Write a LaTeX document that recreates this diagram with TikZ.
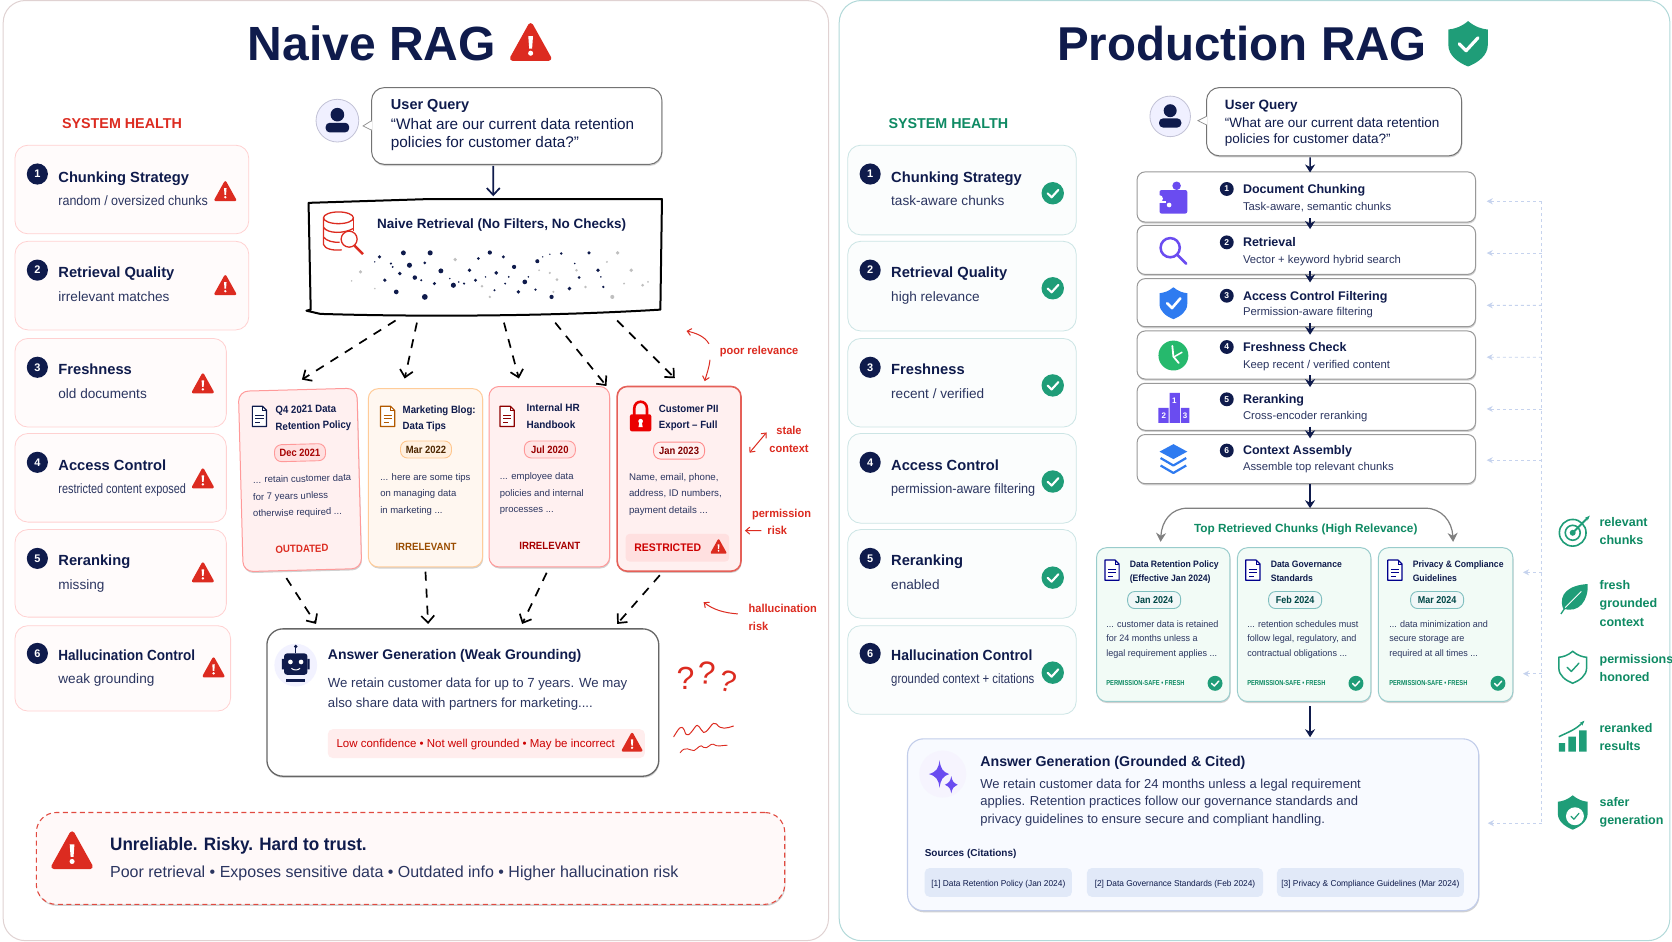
\documentclass[tikz,border=0pt]{standalone}
\usepackage{graphicx}
\usepackage{fontspec}
\setmainfont{Liberation Sans}
\usetikzlibrary{arrows.meta,shadows,calc}
\definecolor{ink}{HTML}{0F1B4C}
\definecolor{sub}{HTML}{2B3560}
\definecolor{rd}{HTML}{DC2B20}
\definecolor{gr}{HTML}{0E8A63}
\definecolor{grc}{HTML}{1F9D78}
\definecolor{pur}{HTML}{6A4CF0}
\definecolor{blu}{HTML}{2F7BF0}
\definecolor{fb}{HTML}{C6D3EE}
\definecolor{chipc}{HTML}{E1E9F8}
\definecolor{anfill}{HTML}{F8FAFF}
\definecolor{anline}{HTML}{C2CDEA}
\newcounter{tn}
\newcommand{\bd}{\bfseries}
\newcommand{\sq}[2]{\scalebox{#1}[1]{#2}}
\newcommand{\tleft}[5][]{\stepcounter{tn}\node[anchor=base west,inner sep=0pt,text=ink,#1] (t\arabic{tn}) at ({#2},{(#3)+0.33*(#4)}) {\fontsize{#4}{#4}\selectfont #5};}
\newcommand{\tmid}[5][]{\stepcounter{tn}\node[anchor=base,inner sep=0pt,text=ink,#1] (t\arabic{tn}) at ({#2},{(#3)+0.33*(#4)}) {\fontsize{#4}{#4}\selectfont #5};}
\newcommand{\bx}[6]{\node[#6,inner sep=0pt,minimum width={((#4)-(#2))*1.0677pt},minimum height={((#5)-(#3))*1.0677pt}] (#1) at ({((#2)+(#4))/2},{((#3)+(#5))/2}) {};}
\newcommand{\warn}[3]{\begin{scope}[shift={(#1,#2)},scale=#3]
\fill[rd,draw=rd,line width=#3*0.3pt,line join=round] (0,-1)--(1,.8)--(-1,.8)--cycle;
\fill[white] (-.13,-.42)--(.13,-.42)--(.08,.27)--(-.08,.27)--cycle;
\fill[white] (0,.52) circle (.14);
\end{scope}}
\newcommand{\chk}[3]{\fill[grc] (#1,#2) circle (#3);
\draw[white,line width=#3*0.2pt,line cap=round,line join=round] ({#1-0.45*#3},{#2+0.02*#3})--({#1-0.1*#3},{#2+0.36*#3})--({#1+0.5*#3},{#2-0.3*#3});}
\newcommand{\num}[4][11]{\fill[ink] (#2,#3) circle ({#1*0.9});\tmid[text=white]{#2}{#3}{#1}{\bd #4}}
\newcommand{\docicon}[4]{\begin{scope}[shift={(#1,#2)},scale=#4]
\draw[#3,line width=1.2pt,line join=round,fill=white] (-7,-10)--(3,-10)--(7,-6)--(7,10)--(-7,10)--cycle;
\draw[#3,line width=.9pt] (3,-10)--(3,-6)--(7,-6);
\draw[#3,line width=1pt] (-4,-1)--(4,-1) (-4,2.5)--(4,2.5) (-4,6)--(1,6);
\end{scope}}
\newcommand{\avatar}[3]{\fill[blue!6,draw=blue!20!gray!40,line width=.8pt] (#1,#2) circle (#3);
\fill[ink] (#1,{#2-0.28*#3}) circle ({0.32*#3});
\fill[ink,rounded corners=4pt] ({#1-0.55*#3},{#2+0.55*#3}) -- ({#1-0.55*#3},{#2+0.1*#3}) -- ({#1+0.55*#3},{#2+0.1*#3}) -- ({#1+0.55*#3},{#2+0.55*#3}) -- cycle;}
\newcommand{\shieldpath}{(0,-1.15) .. controls (.35,-.85) and (.7,-.75) .. (1,-.72) -- (1,.05) .. controls (1,.6) and (.5,.95) .. (0,1.15) .. controls (-.5,.95) and (-1,.6) .. (-1,.05) -- (-1,-.72) .. controls (-.7,-.75) and (-.35,-.85) .. (0,-1.15) -- cycle}
\tikzset{
 panelL/.style={draw=red!18!gray!30,line width=1pt,rounded corners=22pt,fill=white},
 panelR/.style={draw=teal!30,line width=1pt,rounded corners=22pt,fill=white},
 cardL/.style={draw=red!18,line width=.8pt,fill=red!1.5,rounded corners=13pt},
 cardR/.style={draw=teal!20,line width=.8pt,fill=teal!1.5,rounded corners=13pt},
 softshadow/.style={drop shadow={shadow xshift=.6pt,shadow yshift=-1.6pt,opacity=.18,fill=black}},
 qbox/.style={draw=black!55,line width=1pt,fill=white,rounded corners=13pt,softshadow},
 dasharr/.style={black,line width=1.7pt,dash pattern=on 9pt off 8pt,-{Straight Barb[length=7pt,width=13pt,line width=1.7pt]}},
 solidarr/.style={ink,line width=1.7pt,-{Straight Barb[length=7pt,width=13pt,line width=1.7pt]}},
 smallarr/.style={ink,line width=1.4pt,-{Stealth[length=8pt,width=10pt]}},
 redarr/.style={rd,line width=1pt,-{Straight Barb[length=4pt,width=7pt,line width=1pt]}},
 fbline/.style={fb,line width=.8pt,dash pattern=on 3pt off 3pt},
 fbarr/.style={fbline,-{Stealth[length=6pt,width=6pt,fb]}},
 stepbox/.style={draw=black!40,line width=1pt,fill=white,rounded corners=8pt,softshadow},
 doccard/.style={fill=#1!6,draw=#1!40,line width=1pt,rounded corners=10pt,softshadow},
 chunkcard/.style={fill=green!40!teal!5,draw=teal!40,line width=1pt,rounded corners=10pt,softshadow},
 pill/.style={rounded corners=7pt,line width=.9pt,inner sep=0pt},
}
\begin{document}
\begin{tikzpicture}[x=1.0677pt,y=-1.0677pt]
\useasboundingbox (0,0) rectangle (1566,881.35);
\fill[white] (0,0) rectangle (1566,881.35);
\bx{pl}{3}{0.5}{776}{881}{panelL}
\bx{pr}{786}{0.5}{1564}{881}{panelR}
% ---------- LEFT ----------
\tleft{232}{41}{48}{\bd Naive RAG}
\warn{497}{41}{17}
\tleft[text=rd]{58}{116}{14.3}{\bd SYSTEM HEALTH}
\bx{lc1}{14}{136}{233}{219}{cardL}
\bx{lc2}{14}{226}{233}{309}{cardL}
\bx{lc3}{14}{317}{212}{400}{cardL}
\bx{lc4}{14}{406}{212}{489}{cardL}
\bx{lc5}{14}{496}{212}{578}{cardL}
\bx{lc6}{14}{586}{216}{666}{cardL}
\foreach \n/\yc/\yt/\ys/\ttl/\sb/\wx/\wy in {1/163/166/188/{Chunking Strategy}/{\sq{.92}{random / oversized chunks}}/211/180,2/253/255/278/{Retrieval Quality}/{irrelevant matches}/211/268,3/344/346/369/{Freshness}/{old documents}/190/360,4/433/436/458/{Access Control}/{\sq{.8}{restricted content exposed}}/190/449,5/523/525/548/{Reranking}/{missing}/190/537,6/612/614/636/{\sq{.92}{Hallucination Control}}/{weak grounding}/200/626}{
 \num{35}{\yc}{\n}
 \tleft{54.5}{\yt}{14.7}{\bd \ttl}
 \tleft[text=sub]{54.5}{\ys}{13.6}{\sb}
 \warn{\wx}{\wy}{9}
}
% query
\avatar{316}{113}{20}
\bx{ql}{348}{82}{620}{154}{qbox}
\fill[white,draw=black!45,line width=.7pt] (348,113)--(340,118)--(348,122);
\draw[white,line width=1.4pt] (348.2,114)--(348.2,121);
\tleft{366}{98}{14.5}{\bd User Query}
\tleft{366}{116}{15.3}{“What are our current data retention}
\tleft{366}{133}{15.3}{policies for customer data?”}
% retrieval
\bx{retr}{289}{185}{620}{295}{}
\draw[black,line width=2pt,line join=round,line cap=round] (289,190) -- (400,186.5) -- (620,186.5) -- (618.5,290) .. controls (520,296) and (400,297) .. (300,294) -- (287,291) -- (291,290) -- cycle;
\draw[solidarr] ([shift={(-22,1)}]ql.south) -- ([shift={(7.5,-1)}]retr.north);
\begin{scope}[rd,line width=1.3pt]
\draw (317,204) ellipse (14 and 5.5);
\draw (303,204) -- (303,229) .. controls (304,233) and (312,235) .. (320,234);
\draw (331,204) -- (331,216);
\draw (303,213) .. controls (307,219) and (322,219) .. (331,214);
\draw (303,222) .. controls (306,226) and (312,227) .. (318,227);
\draw[fill=white] (327,224) circle (7.5);
\draw[line width=2.4pt] (332,230) -- (340,238);
\end{scope}
\tleft{353}{210}{13.5}{\bd Naive Retrieval (No Filters, No Checks)}
\foreach \a/\b/\r in {363/560/1.7,430/548/2.3,505/548/2.4,395/580/1.1,447/585/2.4,490/578/1.4,420/610/1.8,462/622/2.1,535/602/2.3,378/630/1.7,517/640/1.6,570/645/2.4,410/665/2.2,490/680/2.7,615/600/1.8,640/565/1.4,672/547/2,710/560/1.6,690/608/1.8,740/590/2,632/630/1.6,770/635/2.2,752/665/1.8,685/660/1.1,805/573/1.9,800/658/1.2,845/680/2,895/655/1.8,872/550/1.3,950/548/1.6,975/600/1.7,922/622/1.4,480/630/1,400/590/1,600/640/1.1,660/620/.8,715/640/1,725/620/.9,780/620/.9,983/620/.8,990/650/1.2,910/580/.8,820/560/.7,840/552/.7,350/575/.7,560/625/.8,585/635/.8}{
 \fill[ink] ({234+\a/2.99},{65.6+\b/3.2}) circle (\r);
}
\foreach \a/\b/\r in {1030/548/1.7,1068/600/1.7,1015/680/1.9,1100/645/1.4,310/605/1.6,575/568/1.7,860/628/1.4,840/608/1.1,915/600/1.3,850/665/1.1,650/648/1.3,672/680/1.2,940/650/1.3,1048/640/1,350/655/.8,810/600/.9,285/632/.8,1000/575/1,1115/635/.9}{
 \fill[black!25] ({234+\a/2.99},{65.6+\b/3.2}) circle (\r);
}
% doc cards
\bx{d1}{225.5}{365}{336.5}{534}{doccard=red,rotate=1.5}
\bx{d2}{345}{364}{452}{531}{doccard=orange}
\bx{d3}{458}{362}{571}{531}{doccard=red}
\bx{d4}{578}{362}{694}{535}{doccard=red,draw=rd!75,line width=1.6pt}
\draw[dasharr] ([shift={(-84,5)}]retr.south) -- ([shift={(4,-9)}]d1.north);
\draw[dasharr] ([shift={(-64,7)}]retr.south) -- ([shift={(-19.5,-9)}]d2.north);
\draw[dasharr] ([shift={(17.5,7)}]retr.south) -- ([shift={(-28.5,-7)}]d3.north);
\draw[dasharr] ([shift={(65.5,7)}]retr.south) -- ([shift={(53.5,0)}]d3.north);
\draw[dasharr] ([shift={(123.5,5)}]retr.south) -- ([shift={(-4,-7)}]d4.north);
% D1
\docicon{243}{390}{ink}{.95}
\tleft[rotate=1.5]{258}{384}{10.5}{\bd\sq{.92}{Q4 2021 Data}}
\tleft[rotate=1.5]{258}{399.5}{10.5}{\bd\sq{.92}{Retention Policy}}
\node[pill,rotate=1.5,fill=red!12,draw=red!40,minimum width=51pt,minimum height=17pt] (p1) at (281,424) {};
\tmid[rotate=1.5,text=red!65!black]{281}{424}{10.5}{\bd\sq{.9}{Dec 2021}}
\tleft[rotate=1.5,text=sub]{237}{449.5}{9.5}{... retain customer data}
\tleft[rotate=1.5,text=sub]{237}{465.5}{9.5}{for 7 years unless}
\tleft[rotate=1.5,text=sub]{237}{481}{9.5}{otherwise required ...}
\tmid[rotate=1.5,text=rd]{283}{514}{10.5}{\bd\sq{.92}{OUTDATED}}
% D2
\docicon{363}{390}{orange!70!black}{.95}
\tleft{377}{384}{10.5}{\bd\sq{.92}{Marketing Blog:}}
\tleft{377}{399}{10.5}{\bd\sq{.92}{Data Tips}}
\node[pill,fill=orange!12,draw=orange!45,minimum width=51pt,minimum height=17pt] (p2) at (399,421) {};
\tmid[text=orange!30!black]{399}{421}{10.5}{\bd\sq{.9}{Mar 2022}}
\tleft[text=sub]{356}{447}{9.5}{... here are some tips}
\tleft[text=sub]{356}{462}{9.5}{on managing data}
\tleft[text=sub]{356}{478}{9.5}{in marketing ...}
\tmid[text=orange!60!black]{399}{512}{10.5}{\bd\sq{.92}{IRRELEVANT}}
% D3
\docicon{475}{390}{red!55!black}{.95}
\tleft{493}{382}{10.5}{\sq{.95}{\bd Internal HR}}
\tleft{493}{397.5}{10.5}{\sq{.95}{\bd Handbook}}
\node[pill,fill=red!10,draw=red!40,minimum width=51pt,minimum height=17pt] (p3) at (515,421) {};
\tmid[text=red!60!black]{515}{421}{10.5}{\bd\sq{.9}{Jul 2020}}
\tleft[text=sub]{468}{446}{9.5}{... employee data}
\tleft[text=sub]{468}{462}{9.5}{policies and internal}
\tleft[text=sub]{468}{477}{9.5}{processes ...}
\tmid[text=red!65!black]{515}{511}{10.5}{\bd\sq{.92}{IRRELEVANT}}
% D4
\fill[red!92!black,rounded corners=2pt] (590,388) rectangle (610,404);
\draw[red!92!black,line width=2.6pt] (594,389) -- (594,383) .. controls (594,374) and (606,374) .. (606,383) -- (606,389);
\fill[white] (600,394.5) circle (2.2); \fill[white] (599,395)--(601,395)--(602,400)--(598,400)--cycle;
\tleft{617}{382.5}{10.5}{\bd\sq{.92}{Customer PII}}
\tleft{617}{398}{10.5}{\bd\sq{.92}{Export – Full}}
\node[pill,fill=red!6,draw=red!45,minimum width=51pt,minimum height=17pt] (p4) at (636,422) {};
\tmid[text=red!50!black]{636}{422}{10.5}{\bd\sq{.9}{Jan 2023}}
\tleft[text=sub]{589}{447}{9.7}{Name, email, phone,}
\tleft[text=sub]{589}{462}{9.7}{address, ID numbers,}
\tleft[text=sub]{589}{478}{9.7}{payment details ...}
\bx{rs}{586}{500}{683}{526}{fill=red!12,rounded corners=4pt}
\tleft[text=red!80!black]{594}{512.5}{11}{\bd\sq{.95}{RESTRICTED}}
\warn{673}{512.5}{6.5}
% annotations
\tleft[text=rd]{674}{328.5}{11.5}{\bd\sq{.96}{poor relevance}}
\coordinate (pa1) at (664,322);
\coordinate (pa2) at (643,310);
\coordinate (pa3) at (665,337);
\coordinate (pa4) at (660,357);
\draw[redarr] (pa1) .. controls (660,315) and (652,312) .. (pa2);
\draw[redarr] (pa3) .. controls (664,345) and (662,350) .. (pa4);
\tmid[text=rd]{739}{403}{11.5}{\bd\sq{.96}{stale}}
\tmid[text=rd]{739}{420}{11.5}{\bd\sq{.96}{context}}
\coordinate (sa1) at (702,424);
\coordinate (sa2) at (718,405);
\draw[redarr,{Straight Barb[length=4pt,width=7pt,line width=1pt]}-{Straight Barb[length=4pt,width=7pt,line width=1pt]}] (sa1) -- (sa2);
\tmid[text=rd]{732}{481}{11.5}{\bd\sq{.96}{permission}}
\tmid[text=rd]{728}{497}{11.5}{\bd\sq{.96}{risk}}
\coordinate (pr1) at (713,497);
\draw[redarr] (pr1) -- ([shift={(3,48.5)}]d4.east);
\tleft[text=rd]{701}{570}{11.5}{\bd\sq{.96}{hallucination}}
\tleft[text=rd]{701}{587}{11.5}{\bd\sq{.96}{risk}}
\coordinate (ha1) at (691,575);
\coordinate (ha2) at (659,564);
\draw[redarr] (ha1) .. controls (678,574) and (668,571) .. (ha2);
% answer
\bx{an}{250}{589}{617}{727}{draw=black!60,line width=1.3pt,fill=white,rounded corners=16pt,softshadow}
\draw[dasharr] ([shift={(-15,7)}]d1.south) -- ([shift={(-137.5,-4)}]an.north);
\draw[dasharr] ([shift={(0,4)}]d2.south) -- ([shift={(-32.5,-4)}]an.north);
\draw[dasharr] ([shift={(-2.5,5)}]d3.south) -- ([shift={(55.5,-4)}]an.north);
\draw[dasharr] ([shift={(-18,3)}]d4.south) -- ([shift={(144.5,-4)}]an.north);
\fill[blue!5] (277,623) circle (20);
\fill[ink,rounded corners=3pt] (266,612) rectangle (288,632);
\fill[ink] (264,617) rectangle (266,627) (288,617) rectangle (290,627);
\draw[ink,line width=1pt] (277,612) -- (277,606); \fill[ink] (277,605.5) circle (1.8);
\fill[white] (272,620) circle (2.2) (282,620) circle (2.2);
\draw[white,line width=1pt] (273,626) .. controls (275,628) and (279,628) .. (281,626);
\fill[ink] (268,636) rectangle (286,638.5);
\tleft{307}{613}{14}{\bd Answer Generation (Weak Grounding)}
\tleft[text=sub]{307}{640}{13.2}{We retain customer data for up to 7 years. We may}
\tleft[text=sub]{307}{658}{13.2}{also share data with partners for marketing....}
\bx{conf}{307}{683}{604}{710}{fill=red!7,rounded corners=5pt}
\tleft[text=red!80!black]{315}{696}{11.5}{Low confidence • Not well grounded • May be incorrect}
\warn{592}{696}{8.5}
\tmid[text=rd]{642}{635}{32}{?}
\tmid[text=rd,rotate=-4]{661}{630}{32}{?}
\tmid[text=rd,rotate=-14]{680}{638}{30}{?}
\draw[rd,line width=1pt,line cap=round,line join=round] (631,690) .. controls (636,682) and (638,678) .. (641,684) .. controls (643,692) and (646,688) .. (651,681) .. controls (654,676) and (656,684) .. (659,686) .. controls (664,686) and (667,674) .. (671,678) .. controls (675,684) and (681,682) .. (687,680);
\draw[rd,line width=.9pt,line cap=round,line join=round] (637,705) .. controls (642,698) and (646,703) .. (650,703) .. controls (654,701) and (656,696) .. (659,700) .. controls (663,702) and (665,696) .. (668,697) .. controls (672,700) and (676,698) .. (681,698);
% banner
\bx{ban}{34}{761}{735}{847}{draw=rd!85,line width=1.1pt,dash pattern=on 5pt off 3.5pt,fill=red!2.5,rounded corners=20pt,softshadow}
\warn{67.5}{798}{17}
\tleft{103}{791}{18}{\bd\sq{.95}{Unreliable. Risky. Hard to trust.}}
\tleft[text=sub]{103}{817}{16}{Poor retrieval • Exposes sensitive data • Outdated info • Higher hallucination risk}
% ---------- RIGHT ----------
\tleft{990}{41}{47.5}{\bd Production RAG}
\begin{scope}[shift={(1375,41)},scale=18.5]
\fill[grc] \shieldpath;
\draw[white,line width=3.2pt,line cap=round,line join=round] (-.45,0)--(-.1,.35)--(.5,-.3);
\end{scope}
\tleft[text=gr]{832}{116}{14.3}{\bd SYSTEM HEALTH}
\bx{rc1}{794}{136}{1008}{220}{cardR}
\bx{rc2}{794}{226}{1008}{310}{cardR}
\bx{rc3}{794}{317}{1008}{400}{cardR}
\bx{rc4}{794}{406}{1008}{490}{cardR}
\bx{rc5}{794}{496}{1008}{579}{cardR}
\bx{rc6}{794}{586}{1008}{669}{cardR}
\foreach \n/\yc/\yt/\ys/\ttl/\sb/\cy in {1/163/166/188/{Chunking Strategy}/{task-aware chunks}/181,2/253/255/278/{Retrieval Quality}/{high relevance}/270,3/344/346/369/{Freshness}/{recent / verified}/361,4/433/436/458/{Access Control}/{\sq{.93}{permission-aware filtering}}/451,5/523/525/548/{Reranking}/{enabled}/541,6/612/614/636/{\sq{.95}{Hallucination Control}}/{\sq{.84}{grounded context + citations}}/630}{
 \num{815}{\yc}{\n}
 \tleft{834.5}{\yt}{14.7}{\bd \ttl}
 \tleft[text=sub]{834.5}{\ys}{13.6}{\sb}
 \chk{986}{\cy}{10.5}
}
\avatar{1096}{109}{19}
\bx{qr}{1130}{82}{1369}{146}{qbox}
\fill[white,draw=black!45,line width=.7pt] (1130,109)--(1122,113)--(1130,117);
\draw[white,line width=1.4pt] (1130.2,110)--(1130.2,116);
\tleft{1147}{98}{13.5}{\bd User Query}
\tleft{1147}{115}{13.5}{“What are our current data retention}
\tleft{1147}{130}{13.5}{policies for customer data?”}
% steps
\bx{s1}{1065}{161}{1382}{208}{stepbox}
\bx{s2}{1065}{211}{1382}{257}{stepbox}
\bx{s3}{1065}{261}{1382}{306}{stepbox}
\bx{s4}{1065}{310}{1382}{355}{stepbox}
\bx{s5}{1065}{359}{1382}{403}{stepbox}
\bx{s6}{1065}{407}{1382}{453}{stepbox}
\draw[smallarr] ([shift={(-22.5,1)}]qr.south) -- ([shift={(3.5,1)}]s1.north);
\foreach \p/\q in {s1/s2,s2/s3,s3/s4,s4/s5,s5/s6}{
 \draw[smallarr] ([shift={(3.5,-4)}]\p.south) -- ([shift={(3.5,4)}]\q.north);
}
\foreach \n/\yt/\ys/\ttl/\sb in {1/177/193/{Document Chunking}/{Task-aware, semantic chunks},2/227/243/{Retrieval}/{Vector + keyword hybrid search},3/277/292/{Access Control Filtering}/{Permission-aware filtering},4/325/341/{Freshness Check}/{Keep recent / verified content},5/374/389/{Reranking}/{Cross-encoder reranking},6/422/437/{Context Assembly}/{Assemble top relevant chunks}}{
 \fill[ink] (1149,\yt) circle (6.5);
 \tmid[text=white]{1149}{\yt}{8.5}{\bd\n}
 \tleft{1164}{\yt}{12.5}{\bd \ttl}
 \tleft[text=sub]{1164}{\ys}{11.3}{\sb}
}
% step icons
\fill[pur,rounded corners=2pt] (1086,178) rectangle (1112,200);
\fill[pur] (1102,174) circle (4);
\fill[white] (1086,186) circle (3.2) (1095,192) circle (2.2);
\fill[white] (1085,188) rectangle (1092,190);
\draw[pur,line width=2.5pt] (1096,232) circle (9);
\draw[pur,line width=2.8pt,line cap=round] (1103,239) -- (1111,247);
\begin{scope}[shift={(1099,284)},scale=13]
\fill[blu] \shieldpath;
\draw[white,line width=2.6pt,line cap=round,line join=round] (-.45,0)--(-.1,.35)--(.5,-.35);
\end{scope}
\fill[teal!65!green!85] (1099,333) circle (14);
\draw[white,line width=1.8pt,line cap=round,line join=round] (1098,324)--(1099,334)--(1104,340);
\draw[white,line width=1.5pt,line cap=round] (1100,334)--(1107,330);
\fill[pur] (1085,382) rectangle (1094.5,396) (1095.5,368) rectangle (1105,396) (1106,382) rectangle (1114,396);
\tmid[text=white]{1100}{375}{8}{\bd 1}
\tmid[text=white]{1090}{389}{8}{\bd 2}
\tmid[text=white]{1110}{389}{8}{\bd 3}
\fill[blu] (1099,416)--(1112,423)--(1099,430)--(1086,423)--cycle;
\draw[blu,line width=2.2pt,line join=round] (1087,429)--(1099,436)--(1111,429);
\draw[blu,line width=2.2pt,line join=round] (1087,436)--(1099,443)--(1111,436);
% chunk cards
\bx{c1}{1027}{513}{1152}{657}{chunkcard}
\bx{c2}{1159}{513}{1284}{657}{chunkcard}
\bx{c3}{1291}{513}{1417}{657}{chunkcard}
\coordinate (br) at (1227,476);
\draw[smallarr,line width=1.7pt] ([shift={(3.5,0)}]s6.south) -- (br);
\draw[black!50,line width=1.2pt,-{Stealth[length=9pt,width=10pt]}] (br) -- (1112,476) .. controls (1097,476) and (1088,488) .. ([shift={(-2.5,-5)}]c1.north);
\draw[black!50,line width=1.2pt,-{Stealth[length=9pt,width=10pt]}] (br) -- (1335,476) .. controls (1350,476) and (1360,488) .. ([shift={(7,-5)}]c3.north);
\tmid[text=gr]{1223}{495}{11.8}{\bd Top Retrieved Chunks (High Relevance)}
\foreach \ox/\ta/\tb/\dte/\la/\lb/\lc in {0/{Data Retention Policy}/{(Effective Jan 2024)}/{Jan 2024}/{... customer data is retained}/{for 24 months unless a}/{legal requirement applies ...},132/{Data Governance}/{Standards}/{Feb 2024}/{... retention schedules must}/{follow legal, regulatory, and}/{contractual obligations ...},265/{Privacy \& Compliance}/{Guidelines}/{Mar 2024}/{... data minimization and}/{secure storage are}/{required at all times ...}}{
 \begin{scope}[shift={(\ox,0)}]
 \docicon{1041.5}{534}{blue!55!black}{.95}
 \tleft{1058}{528}{9.3}{\bd\sq{.93}{\ta}}
 \tleft{1058}{542}{9.3}{\bd\sq{.93}{\tb}}
 \node[pill,fill=teal!6,draw=teal!50,minimum width=53pt,minimum height=17pt] (pc\ox) at (1081,562) {};
 \tmid[text=teal!55!black]{1081}{562}{10}{\bd\sq{.9}{\dte}}
 \tleft[text=sub]{1036}{585}{9.3}{\sq{.97}{\la}}
 \tleft[text=sub]{1036}{597.5}{9.3}{\sq{.97}{\lb}}
 \tleft[text=sub]{1036}{612}{9.3}{\sq{.97}{\lc}}
 \tleft[text=gr]{1036}{640}{7.2}{\bd\sq{.8}{PERMISSION-SAFE • FRESH}}
 \chk{1138}{640}{7}
 \end{scope}
}
% answer right
\bx{an2}{850}{692}{1385}{853}{draw=anline,line width=1.1pt,fill=anfill,rounded corners=16pt,softshadow}
\draw[smallarr,line width=1.7pt] ([shift={(5.5,4)}]c2.south) -- ([shift={(109.5,-1)}]an2.north);
\fill[pur!6] (883,725) circle (22);
\fill[pur] (880,712) .. controls (881,720) and (883,723) .. (889,725) .. controls (883,727) and (881,730) .. (880,738) .. controls (879,730) and (877,727) .. (870,725) .. controls (877,723) and (879,720) .. (880,712) -- cycle;
\fill[pur] (891,727) .. controls (892,732) and (893,733) .. (897,735) .. controls (893,737) and (892,738) .. (891,743) .. controls (890,738) and (889,737) .. (885,735) .. controls (889,733) and (890,732) .. (891,727) -- cycle;
\tleft{918}{713}{14.2}{\bd Answer Generation (Grounded \& Cited)}
\tleft[text=sub]{918}{734}{13}{We retain customer data for 24 months unless a legal requirement}
\tleft[text=sub]{918}{750}{13}{applies. Retention practices follow our governance standards and}
\tleft[text=sub]{918}{767}{13}{privacy guidelines to ensure secure and compliant handling.}
\tleft{866}{799}{10}{\bd Sources (Citations)}
\bx{ch1}{866}{813}{1004}{840}{fill=chipc,rounded corners=5pt}
\bx{ch2}{1018}{813}{1183}{840}{fill=chipc,rounded corners=5pt}
\bx{ch3}{1196}{813}{1371}{840}{fill=chipc,rounded corners=5pt}
\tmid{935}{827}{8.6}{\sq{.97}{[1] Data Retention Policy (Jan 2024)}}
\tmid{1100.5}{827}{8.6}{\sq{.97}{[2] Data Governance Standards (Feb 2024)}}
\tmid{1283.5}{827}{8.6}{\sq{.97}{[3] Privacy \& Compliance Guidelines (Mar 2024)}}
% feedback
\coordinate (fbtop) at (1444,188.5);
\coordinate (fbbot) at (1444,771);
\draw[fbline] (fbtop) -- (fbbot);
\foreach \nm/\yy/\dy in {s1/188.5/4,s2/237/3,s3/286/2.5,s4/334.6/2,s5/383/2,s6/431/1}{
 \coordinate (f\nm) at (1444,\yy);
 \draw[fbarr] (f\nm) -- ([shift={(10,\dy)}]\nm.east);
}
\coordinate (fc1) at (1444,536);
\coordinate (fc2) at (1444,631);
\draw[fbarr] (fc1) -- ([shift={(9,-49)}]c3.east);
\draw[fbarr] (fc2) -- ([shift={(9,46)}]c3.east);
\draw[fbarr] (fbbot) -- ([shift={(8,-1.5)}]an2.east);
% legend
\tleft[text=gr]{1498}{489}{12.5}{\bd relevant}
\tleft[text=gr]{1498}{506}{12.5}{\bd chunks}
\tleft[text=gr]{1498}{548}{12.5}{\bd fresh}
\tleft[text=gr]{1498}{565}{12.5}{\bd grounded}
\tleft[text=gr]{1498}{583}{12.5}{\bd context}
\tleft[text=gr]{1498}{617}{12.5}{\bd permissions}
\tleft[text=gr]{1498}{634}{12.5}{\bd honored}
\tleft[text=gr]{1498}{682}{12.5}{\bd reranked}
\tleft[text=gr]{1498}{699}{12.5}{\bd results}
\tleft[text=gr]{1498}{751}{12.5}{\bd safer}
\tleft[text=gr]{1498}{768}{12.5}{\bd generation}
\draw[grc,line width=1.6pt] (1473,499) circle (12.5) (1473,499) circle (7);
\fill[grc] (1473,499) circle (2.8);
\draw[grc,line width=1.8pt,-{Stealth[length=5pt]}] (1473,499) -- (1489,483);
\fill[grc] (1464,570) .. controls (1459,556) and (1470,548) .. (1487,547) .. controls (1488,562) and (1479,575) .. (1464,570) -- cycle;
\draw[grc,line width=1.3pt] (1462,575) -- (1466,569);
\draw[white,line width=.8pt] (1466,569) -- (1481,554);
\begin{scope}[shift={(1473,625)},scale=13]
\draw[grc,line width=1.5pt,fill=white] \shieldpath;
\draw[grc,line width=1.4pt,line cap=round,line join=round] (-.4,0)--(-.1,.3)--(.45,-.3);
\end{scope}
\fill[grc] (1460,696) rectangle (1466,704) (1469,690) rectangle (1476,704) (1479,684) rectangle (1486,704);
\draw[grc,line width=1.5pt,-{Stealth[length=5pt]}] (1460,690) .. controls (1468,686) and (1475,684) .. (1484,675);
\begin{scope}[shift={(1473,761)},scale=14]
\fill[grc] \shieldpath;
\fill[white] (.15,.25) circle (.6);
\draw[grc,line width=1.2pt,line cap=round,line join=round] (-.12,.25)--(.08,.45)--(.42,.05);
\end{scope}
\end{tikzpicture}
\end{document}
